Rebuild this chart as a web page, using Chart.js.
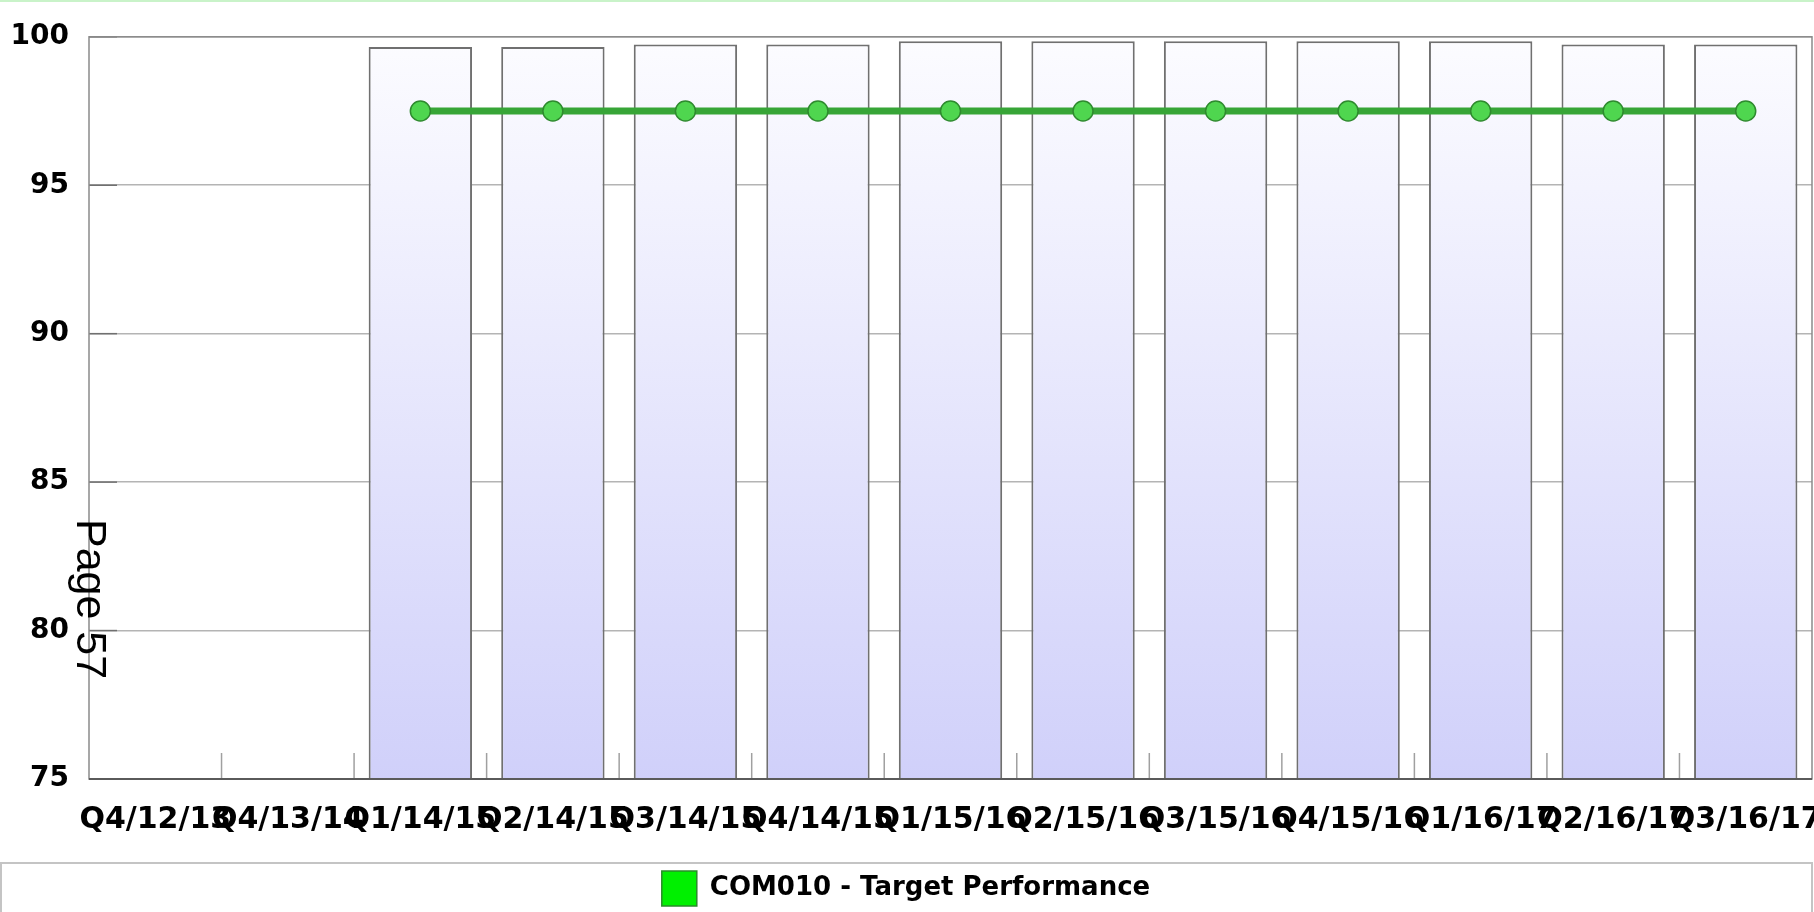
<!DOCTYPE html>
<html>
<head>
<meta charset="utf-8">
<title>COM010 - Target Performance</title>
<script src="https://cdn.jsdelivr.net/npm/chart.js@4/dist/chart.umd.min.js"></script>
<style>
    html, body { margin: 0; padding: 0; background: #fff; }
    #wrap { position: relative; width: 1814px; height: 912px; overflow: hidden; }
    #topline { position: absolute; left: 0; top: 0; width: 1814px; height: 2px; background: #c9f3c9; }
    #pageno {
        position: absolute; left: 113px; top: 519px;
        transform-origin: left top; transform: rotate(90deg);
        font: 43px 'Liberation Sans', Arial, sans-serif; line-height: 1;
        color: #000; white-space: nowrap;
    }
</style>
</head>
<body>
<div id="wrap">
    <canvas id="perfChart" width="1814" height="916"></canvas>
    <div id="topline"></div>
    <div id="pageno">Page 57</div>
</div>
<script>
const quarters = ['Q4/12/13', 'Q4/13/14', 'Q1/14/15', 'Q2/14/15', 'Q3/14/15', 'Q4/14/15',
    'Q1/15/16', 'Q2/15/16', 'Q3/15/16', 'Q4/15/16', 'Q1/16/17', 'Q2/16/17', 'Q3/16/17'];
const actualValues = [null, null, 99.66, 99.66, 99.74, 99.74, 99.85, 99.85, 99.85, 99.85, 99.85, 99.74, 99.74];
const targetValues = [null, null, 97.5, 97.5, 97.5, 97.5, 97.5, 97.5, 97.5, 97.5, 97.5, 97.5, 97.5];
const yTicks = [75, 80, 85, 90, 95, 100];

const labelFont = "'DejaVu Sans', sans-serif";

// lavender fade on the bars, light at the top
function barFill(context) {
    const area = context.chart.chartArea;
    if (!area) return '#e6e6fc';
    const g = context.chart.ctx.createLinearGradient(0, area.top, 0, area.bottom);
    g.addColorStop(0, '#fcfcff');
    g.addColorStop(1, '#d0d0fa');
    return g;
}

// plot frame, short tick marks and the legend box
const framePlugin = {
    id: 'frame',
    beforeDatasetsDraw(chart) {
        const { ctx, chartArea: a, scales } = chart;
        ctx.save();
        // short ticks at category boundaries
        ctx.strokeStyle = '#a0a0a0';
        ctx.lineWidth = 1.5;
        const x = scales.x;
        for (let i = 1; i < quarters.length; i++) {
            const px = (x.getPixelForValue(i - 1) + x.getPixelForValue(i)) / 2;
            ctx.beginPath();
            ctx.moveTo(px, a.bottom);
            ctx.lineTo(px, a.bottom - 26);
            ctx.stroke();
        }
        // darker inner ticks on the value axis
        ctx.strokeStyle = '#707070';
        yTicks.forEach(v => {
            const py = scales.y.getPixelForValue(v);
            ctx.beginPath();
            ctx.moveTo(a.left, py);
            ctx.lineTo(a.left + 28, py);
            ctx.stroke();
        });
        ctx.restore();
    },
    afterDraw(chart) {
        const { ctx, chartArea: a } = chart;
        ctx.save();
        ctx.strokeStyle = '#8a8a8a';
        ctx.lineWidth = 1.5;
        ctx.strokeRect(a.left, a.top, a.right - a.left, a.bottom - a.top);
        ctx.strokeStyle = '#5a5a5a';
        ctx.lineWidth = 2;
        ctx.beginPath();
        ctx.moveTo(a.left, a.bottom);
        ctx.lineTo(a.right, a.bottom);
        ctx.stroke();
        // legend frame
        ctx.strokeStyle = '#c4c4c4';
        ctx.lineWidth = 2;
        ctx.strokeRect(1, 863, 1811, 60);
        ctx.restore();
    }
};

new Chart(document.getElementById('perfChart'), {
    type: 'bar',
    data: {
        labels: quarters,
        datasets: [
            {
                type: 'line',
                label: 'COM010 - Target Performance',
                data: targetValues,
                order: 0,
                borderColor: '#37a537',
                borderWidth: 7,
                pointRadius: 10,
                pointHoverRadius: 10,
                pointBackgroundColor: '#4fd64f',
                pointBorderColor: '#2e8a2e',
                pointBorderWidth: 1.5,
                tension: 0
            },
            {
                label: 'COM010',
                data: actualValues,
                order: 1,
                backgroundColor: barFill,
                borderColor: '#707070',
                borderWidth: 2,
                barPercentage: 0.78,
                categoryPercentage: 1.0
            }
        ]
    },
    options: {
        responsive: false,
        animation: false,
        layout: { autoPadding: false, padding: { top: 32, right: 2, left: 0, bottom: 0 } },
        plugins: {
            tooltip: { enabled: false },
            legend: {
                position: 'bottom',
                labels: {
                    boxWidth: 35,
                    boxHeight: 35,
                    padding: 4,
                    color: '#000',
                    font: { family: labelFont, size: 26, weight: 'bold' },
                    generateLabels: chart => [{
                        text: chart.data.datasets[0].label,
                        fillStyle: '#00f000',
                        strokeStyle: '#2a8a2a',
                        lineWidth: 1.5,
                        datasetIndex: 0
                    }]
                }
            }
        },
        scales: {
            x: {
                offset: true,
                grid: { display: false, drawTicks: false },
                border: { display: false },
                ticks: {
                    autoSkip: false,
                    maxRotation: 0,
                    minRotation: 0,
                    padding: 23,
                    color: '#000',
                    font: { family: labelFont, size: 30, weight: 'bold' }
                },
                afterFit(scale) {
                    scale.height = 88;
                    scale.paddingLeft = 0;
                    scale.paddingRight = 0;
                }
            },
            y: {
                min: 75,
                max: 100,
                afterBuildTicks(scale) {
                    scale.ticks = yTicks.map(v => ({ value: v }));
                },
                grid: { color: '#b4b4b4', lineWidth: 1.5, drawTicks: false },
                border: { display: false },
                ticks: {
                    padding: 20,
                    color: '#000',
                    font: { family: labelFont, size: 28, weight: 'bold' }
                },
                afterFit(scale) {
                    scale.width = 89;
                }
            }
        }
    },
    plugins: [framePlugin]
});
</script>
</body>
</html>
